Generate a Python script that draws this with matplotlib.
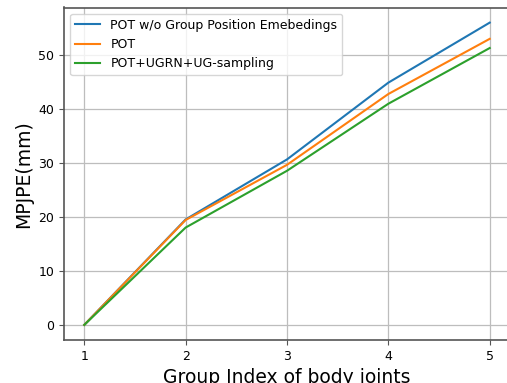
import matplotlib
matplotlib.use("Agg")
import matplotlib.pyplot as plt

groups = [1, 2, 3, 4, 5]
pot_wo_gpe = [0, 19.5, 30.6, 44.8, 55.9]
pot = [0, 19.4, 29.6, 42.7, 52.9]
pot_ugrn = [0, 18.0, 28.5, 40.9, 51.2]
labels = ["POT w/o Group Position Emebedings", "POT", "POT+UGRN+UG-sampling"]

W, H = 507, 383
fig = plt.figure(figsize=(W/100, H/100), dpi=100)
ax = fig.add_axes([64/W, (H-340)/H, (510-64)/W, (340-7.5)/H])
ax.plot(groups, pot_wo_gpe, color="#1f77b4", lw=1.5, label=labels[0])
ax.plot(groups, pot, color="#ff7f0e", lw=1.5, label=labels[1])
ax.plot(groups, pot_ugrn, color="#2ca02c", lw=1.5, label=labels[2])
ax.set_xticks(groups)
ax.set_yticks([0, 10, 20, 30, 40, 50])
ax.tick_params(labelsize=9, color="#555555")
for s in ax.spines.values():
    s.set_color("#555555")
    s.set_linewidth(1.2)
ax.grid(True, color="#bdbdbd", lw=0.9)
ax.set_xlabel("Group Index of body joints", fontsize=13.5, labelpad=4)
ax.set_ylabel("MPJPE(mm)", fontsize=13.5)
ax.legend(loc="upper left", fontsize=9)
fig.savefig("out.png", dpi=100)
